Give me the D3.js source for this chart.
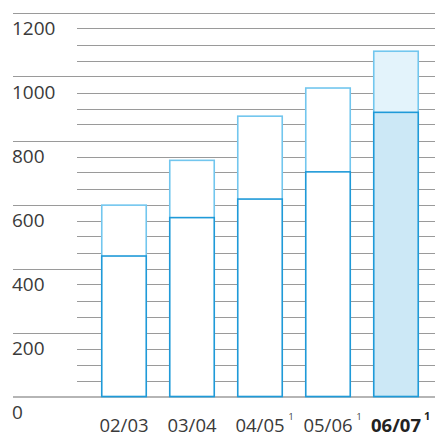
<!DOCTYPE html>
<html><head><meta charset="utf-8">
<script src="https://cdn.jsdelivr.net/npm/d3@7"></script>
<style>body{margin:0;background:#fff}svg{display:block}</style>
</head><body>
<svg id="c" width="435" height="436"></svg>
<script>
const categories = ["02/03","03/04","04/05","05/06","06/07"];
const footnotes  = ["","","1","1","1"];
const lowerValues = [439, 559, 617, 702, 888];
const totalValues = [598, 738, 876, 964, 1079];
const highlightIndex = 4;
const majorTicks = [0,200,400,600,800,1000,1200];
const minorTicks = d3.range(50, 1200, 50).filter(v => v % 200 !== 0);

const svg = d3.select("#c");
const W = 435;
const y = d3.scaleLinear().domain([0,1200]).range([396.5, 12.5]);
const x = d3.scaleBand().domain(categories).range([90,430]).paddingInner(0.346).paddingOuter(0.173);
const font = "'Open Sans', sans-serif";

// minor grid
svg.append("g").selectAll("line").data(minorTicks).join("line")
  .attr("x1",77).attr("x2",W)
  .attr("y1",d=>Math.round(y(d))+0.5).attr("y2",d=>Math.round(y(d))+0.5)
  .attr("stroke","#9a9a9a").attr("stroke-width",1);
// major grid
svg.append("g").selectAll("line").data(majorTicks.filter(d=>d>0)).join("line")
  .attr("x1",13).attr("x2",W)
  .attr("y1",d=>Math.round(y(d))+0.5).attr("y2",d=>Math.round(y(d))+0.5)
  .attr("stroke","#9a9a9a").attr("stroke-width",1);
// baseline
svg.append("line").attr("x1",13).attr("x2",W).attr("y1",y(0)+0.5).attr("y2",y(0)+0.5)
  .attr("stroke","#b5b5b5").attr("stroke-width",2);

// y labels
svg.append("g").selectAll("text").data(majorTicks).join("text")
  .attr("x",12).attr("y",d=>y(d)+22)
  .attr("font-family",font).attr("font-size",19).attr("fill","#3a3a3a")
  .text(d=>d);

// bars
const bars = svg.append("g").selectAll("g").data(categories).join("g");
bars.append("rect")
  .attr("x",d=>x(d)).attr("width",x.bandwidth())
  .attr("y",(d,i)=>y(totalValues[i])).attr("height",(d,i)=>y(0)-y(totalValues[i]))
  .attr("fill",(d,i)=>i===highlightIndex?"#e3f3fb":"#fff")
  .attr("stroke","#72c6ee").attr("stroke-width",1.6);
bars.append("rect")
  .attr("x",d=>x(d)).attr("width",x.bandwidth())
  .attr("y",(d,i)=>y(lowerValues[i])).attr("height",(d,i)=>y(0)-y(lowerValues[i]))
  .attr("fill",(d,i)=>i===highlightIndex?"#cce8f6":"#fff")
  .attr("stroke","#1f9ad8").attr("stroke-width",1.6);

// x labels
categories.forEach((c,i)=>{
  const cx = x(c)+x.bandwidth()/2;
  const bold = i===highlightIndex;
  const t = svg.append("text").attr("x",cx).attr("y",432)
    .attr("text-anchor","middle").attr("font-family",font).attr("font-size",18.5)
    .attr("font-weight",bold?"bold":"normal").attr("fill",bold?"#222":"#3a3a3a").text(c);
  if (footnotes[i]) {
    const w = t.node().getComputedTextLength();
    svg.append("text").attr("x",cx+w/2+(bold?3:4)).attr("y",420)
      .attr("font-family",font).attr("font-size",bold?11:9)
      .attr("font-weight",bold?"bold":"normal").attr("fill",bold?"#222":"#3a3a3a")
      .text(footnotes[i]);
  }
});
</script>
</body></html>
